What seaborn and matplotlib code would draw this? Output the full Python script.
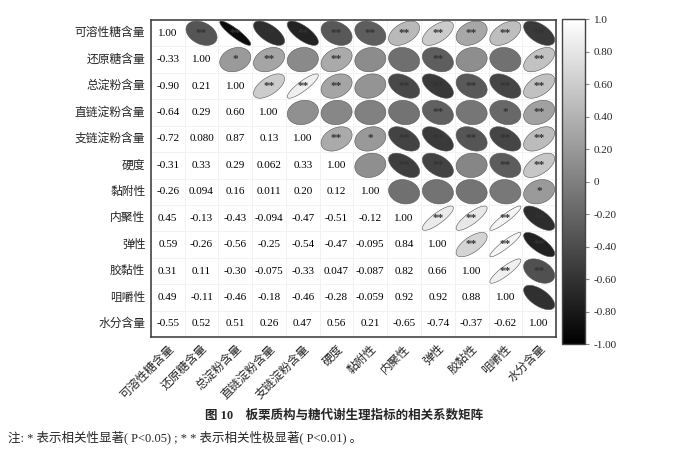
import numpy as np
import pandas as pd
import matplotlib
matplotlib.use('Agg')
import matplotlib.pyplot as plt
import seaborn as sns
from matplotlib.colors import ListedColormap, Normalize
from matplotlib.patches import Polygon
import matplotlib.cm as cm

# 指标名称
labels = ['可溶性糖含量', '还原糖含量', '总淀粉含量', '直链淀粉含量', '支链淀粉含量',
          '硬度', '黏附性', '内聚性', '弹性', '胶黏性', '咀嚼性', '水分含量']

# 下三角相关系数 (按行)
r01 = [1.00]
r02 = [-0.33, 1.00]
r03 = [-0.90, 0.21, 1.00]
r04 = [-0.64, 0.29, 0.60, 1.00]
r05 = [-0.72, 0.080, 0.87, 0.13, 1.00]
r06 = [-0.31, 0.33, 0.29, 0.062, 0.33, 1.00]
r07 = [-0.26, 0.094, 0.16, 0.011, 0.20, 0.12, 1.00]
r08 = [0.45, -0.13, -0.43, -0.094, -0.47, -0.51, -0.12, 1.00]
r09 = [0.59, -0.26, -0.56, -0.25, -0.54, -0.47, -0.095, 0.84, 1.00]
r10 = [0.31, 0.11, -0.30, -0.075, -0.33, 0.047, -0.087, 0.82, 0.66, 1.00]
r11 = [0.49, -0.11, -0.46, -0.18, -0.46, -0.28, -0.059, 0.92, 0.92, 0.88, 1.00]
r12 = [-0.55, 0.52, 0.51, 0.26, 0.47, 0.56, 0.21, -0.65, -0.74, -0.37, -0.62, 1.00]
rows = [r01, r02, r03, r04, r05, r06, r07, r08, r09, r10, r11, r12]

# 上三角显著性标记 (按行, 从对角线右侧开始)
s01 = ['**', '**', '**', '**', '**', '**', '**', '**', '**', '**', '**']
s02 = ['*', '**', '', '**', '', '', '**', '', '', '**']
s03 = ['**', '**', '**', '', '**', '**', '**', '**', '**']
s04 = ['', '', '', '', '**', '', '*', '**']
s05 = ['**', '*', '**', '**', '**', '**', '**']
s06 = ['', '**', '**', '', '**', '**']
s07 = ['', '', '', '', '*']
s08 = ['**', '**', '**', '**']
s09 = ['**', '**', '**']
s10 = ['**', '**']
s11 = ['**']
stars = [s01, s02, s03, s04, s05, s06, s07, s08, s09, s10, s11]

n = len(labels)
corr = np.zeros((n, n))
for i, row in enumerate(rows):
    for j, v in enumerate(row):
        corr[i, j] = v
        corr[j, i] = v
df = pd.DataFrame(corr, index=labels, columns=labels)

def fmt(v):
    if v != 0 and abs(v) < 0.1:
        return '%.3f' % v
    return '%.2f' % v

annot = np.array([[fmt(corr[i, j]) if j <= i else '' for j in range(n)] for i in range(n)])
mask = np.triu(np.ones((n, n), dtype=bool), k=1)

sns.set_style('white')
plt.rcParams['font.family'] = ['Liberation Serif', 'Noto Sans CJK SC']
plt.rcParams['axes.unicode_minus'] = False

fig = plt.figure(figsize=(6.89, 4.65), dpi=100)
ax = fig.add_axes([0.219, 0.275, 0.588, 0.682])
cax = fig.add_axes([0.816, 0.26, 0.033, 0.699])

sns.heatmap(df, mask=mask, cmap=ListedColormap(['white']), annot=annot, fmt='',
            annot_kws={'size': 8, 'color': 'black'}, cbar=False,
            linewidths=0.5, linecolor='#f2f2f2', ax=ax)

# 上三角椭圆
cmap = plt.get_cmap('gray')
norm = Normalize(-1, 1)
t = np.linspace(0, 2 * np.pi, 100)
for i in range(n):
    for j in range(i + 1, n):
        r = corr[i, j]
        d = np.arccos(np.clip(r, -1, 1))
        xs = j + 0.5 + 0.46 * np.cos(t + d / 2)
        ys = i + 0.5 - 0.46 * np.cos(t - d / 2)
        col = cmap(norm(r))
        ax.add_patch(Polygon(np.column_stack([xs, ys]), closed=True,
                             facecolor=col, edgecolor='#555555', linewidth=0.4))
        s = stars[i][j - i - 1]
        if s:
            ax.text(j + 0.5, i + 0.5, s, ha='center', va='center',
                    fontsize=8, color='#333333', fontweight='bold')

ax.set_xticks(np.arange(n) + 0.5)
ax.set_yticks(np.arange(n) + 0.5)
ax.set_xticklabels(labels, rotation=45, ha='right', va='top', rotation_mode='anchor', fontsize=8.5)
ax.set_yticklabels(labels, rotation=0, fontsize=8.5)
ax.tick_params(length=0, pad=4)
for s in ax.spines.values():
    s.set_visible(True)
    s.set_color('#444444')
    s.set_linewidth(1.2)

sm = cm.ScalarMappable(norm=norm, cmap=cmap)
cb = fig.colorbar(sm, cax=cax)
ticks = [-1, -0.8, -0.6, -0.4, -0.2, 0, 0.2, 0.4, 0.6, 0.8, 1.0]
cb.set_ticks(ticks)
cb.set_ticklabels(['-1.00', '-0.80', '-0.60', '-0.40', '-0.20', '0',
                   '0.20', '0.40', '0.60', '0.80', '1.0'])
cb.ax.tick_params(labelsize=8, length=3, color='#888888')
cb.outline.set_edgecolor('#444444')
cb.outline.set_linewidth(1.0)

fig.text(0.5, 0.105, '图 10　板栗质构与糖代谢生理指标的相关系数矩阵',
         ha='center', va='center', fontsize=9, fontweight='bold')
fig.text(0.012, 0.06, '注: * 表示相关性显著( P<0.05) ; * * 表示相关性极显著( P<0.01) 。',
         ha='left', va='center', fontsize=9)

fig.savefig('out.png', dpi=100)
